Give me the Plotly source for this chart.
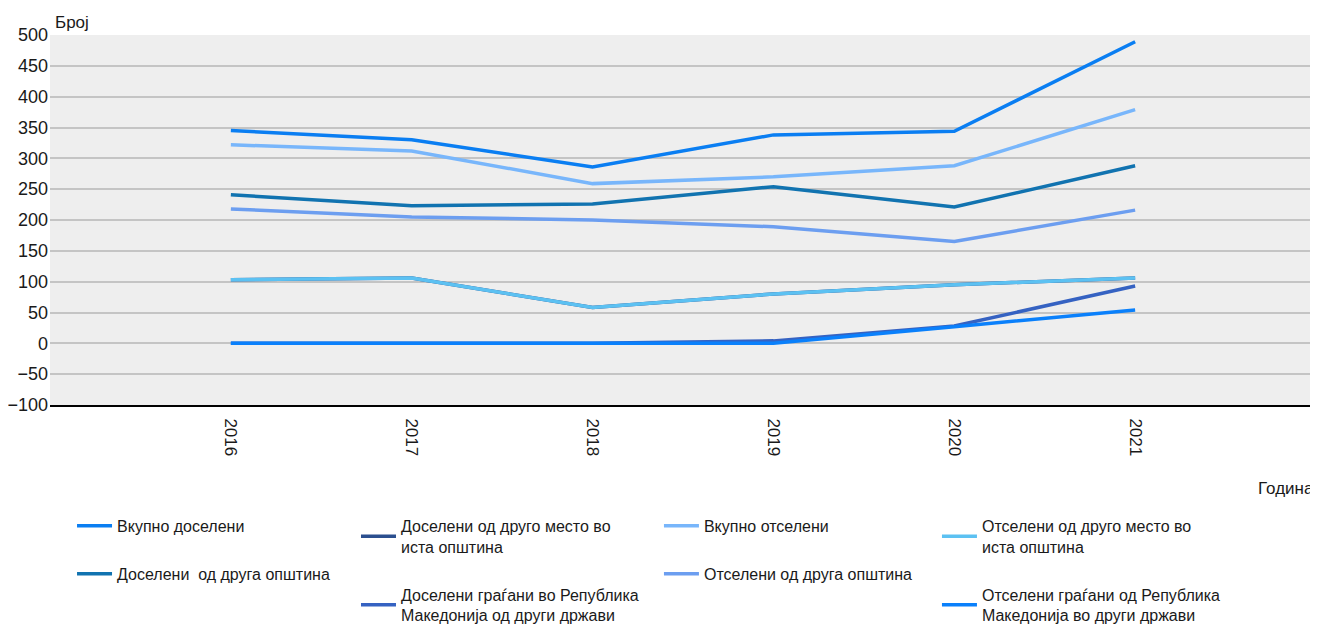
import plotly.graph_objects as go

years = [2016, 2017, 2018, 2019, 2020, 2021]

vkupno_doseleni = [345, 330, 286, 338, 344, 489]
doseleni_isto_mesto = [103, 106, 58, 80, 95, 106]
doseleni_druga_opstina = [241, 223, 226, 254, 221, 288]
doseleni_drugi_drzavi = [0, 0, 0, 4, 28, 93]
vkupno_otseleni = [322, 312, 259, 270, 288, 379]
otseleni_isto_mesto = [103, 106, 58, 80, 95, 106]
otseleni_druga_opstina = [218, 205, 200, 189, 165, 216]
otseleni_drugi_drzavi = [0, 0, 0, 0, 27, 54]

# (name, values, colour, legend column, rank within column)
series = [
    ("Вкупно доселени", vkupno_doseleni, "#0a7ef2", "legend", 1),
    ("Доселени од друго место во<br>иста општина", doseleni_isto_mesto, "#2b4f8f", "legend2", 1),
    ("Доселени  од друга општина", doseleni_druga_opstina, "#1173b0", "legend", 2),
    ("Доселени граѓани во Република<br>Македонија од други држави", doseleni_drugi_drzavi, "#3562c2", "legend2", 2),
    ("Вкупно отселени", vkupno_otseleni, "#78b6fb", "legend3", 1),
    ("Отселени од друго место во<br>иста општина", otseleni_isto_mesto, "#5cc1f2", "legend4", 1),
    ("Отселени од друга општина", otseleni_druga_opstina, "#6c9ef0", "legend3", 2),
    ("Отселени граѓани од Република<br>Македонија во други држави", otseleni_drugi_drzavi, "#0a80fb", "legend4", 2),
]

fig = go.Figure()
for name, vals, color, leg, rank in series:
    fig.add_trace(go.Scatter(
        x=years, y=vals, name=name, mode="lines",
        line=dict(color=color, width=3.5),
        legend=leg, legendrank=rank, legendgroup=name,
    ))

font_family = "Liberation Sans, Arial, sans-serif"

def legend_at(x):
    return dict(
        orientation="v",
        x=x, y=-0.281, xanchor="left", yanchor="top",
        font=dict(size=16, color="#1a1a1a"),
        itemwidth=35,
        tracegroupgap=24,
        bgcolor="rgba(0,0,0,0)",
    )

fig.update_layout(
    width=1310, height=650,
    margin=dict(l=42, r=2, t=27, b=253, autoexpand=False),
    paper_bgcolor="white",
    plot_bgcolor="#eeeeee",
    font=dict(family=font_family, size=15, color="#1a1a1a"),
    showlegend=True,
    legend=legend_at(0.0174),
    legend2=legend_at(0.2417),
    legend3=legend_at(0.481),
    legend4=legend_at(0.7006),
    xaxis=dict(
        range=[2015, 2022],
        tickvals=years,
        ticktext=[str(y) for y in years],
        tickangle=90,
        showgrid=False,
        zeroline=False,
        showline=True, linecolor="black", linewidth=2,
        ticks="",
        automargin=False,
        ticklabelstandoff=8,
        tickfont=dict(size=17),
    ),
    yaxis=dict(
        range=[-100, 500],
        dtick=50,
        showgrid=True, gridcolor="#c4c4c4", gridwidth=1.5,
        zeroline=False,
        showline=False,
        ticks="",
        automargin=False,
        ticklabelstandoff=1,
        tickfont=dict(size=18),
    ),
    annotations=[
        dict(text="Број", xref="paper", yref="paper", x=0.002, y=1.0,
             xanchor="left", yanchor="bottom", showarrow=False,
             font=dict(size=17), yshift=1),
        dict(text="Година", xref="paper", yref="paper", x=1.0, y=-0.227,
             xanchor="right", yanchor="middle", showarrow=False,
             font=dict(size=17)),
    ],
)

fig.write_html("out.html")
